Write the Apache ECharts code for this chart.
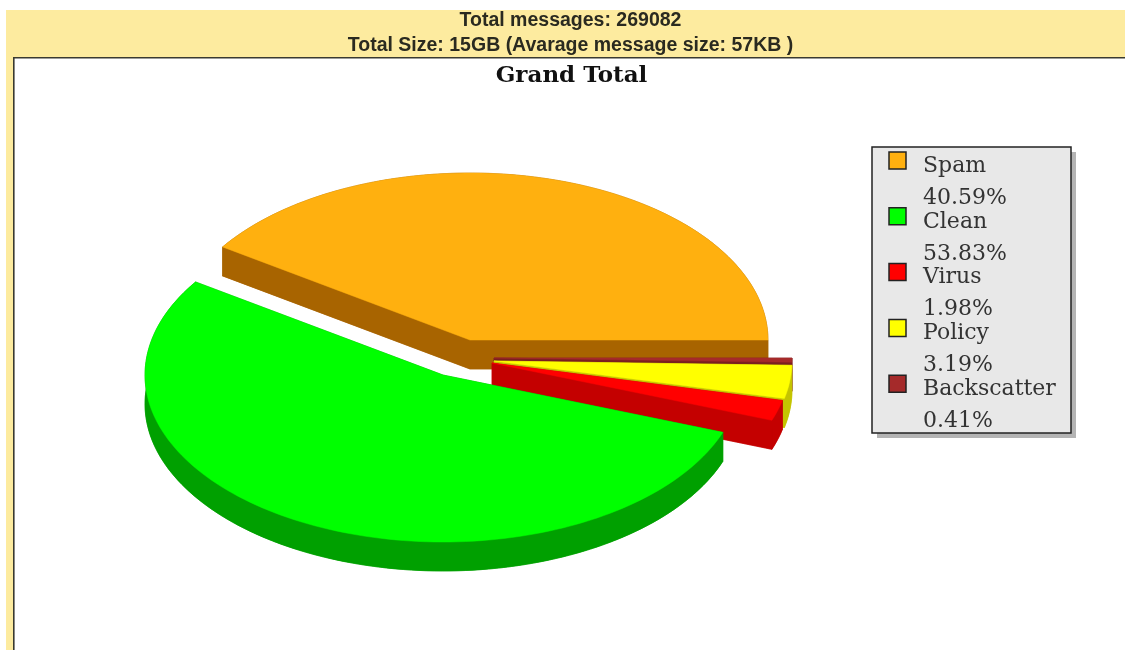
<!DOCTYPE html>
<html>
<head>
<meta charset="utf-8">
<style>html,body{margin:0;padding:0;background:#fff}#c{width:1125px;height:650px}</style>
<script src="https://cdn.jsdelivr.net/npm/echarts@6/dist/echarts.min.js"></script>
</head>
<body>
<div id="c"></div>
<script>
const categories = ['Spam', 'Clean', 'Virus', 'Policy', 'Backscatter'];
const shares = [40.59, 53.83, 1.98, 3.19, 0.41];
const headerLines = ['Total messages: 269082', 'Total Size: 15GB (Avarage message size: 57KB )'];
const chartTitle = 'Grand Total';

const topColors = ['#ffb00f', '#00ff00', '#ff0000', '#ffff00', '#a52a2a'];
const sideColors = ['#a86400', '#00a000', '#c40000', '#c4c400', '#7a1f1f'];
const explode = [[0, 0], [-27, 35], [22, 23], [24, 21], [24, 18]];
const paintOrder = [0, 4, 3, 2, 1];
const C = { x: 470, y: 340, a: 298, b: 167, depth: 29 };

const total = shares.reduce((s, v) => s + v, 0);
const starts = [];
shares.reduce((s, v, i) => { starts[i] = s; return s + v; }, 0);

function rim(cx, cy, from, to, dy) {
  const n = Math.max(2, Math.ceil(Math.abs(to - from) / 1.5) + 1);
  const pts = [];
  for (let i = 0; i < n; i++) {
    const t = (from + (to - from) * i / (n - 1)) * Math.PI / 180;
    pts.push([cx + C.a * Math.cos(t), cy - C.b * Math.sin(t) + dy]);
  }
  return pts;
}
function poly(points, fill, z2) {
  return { type: 'polygon', shape: { points }, z2, style: { fill, stroke: fill, lineWidth: 0.5 } };
}
function renderSlice(params, api) {
  const i = api.value(1);
  const from = starts[i] / total * 360;
  const to = from + api.value(0) / total * 360;
  const cx = C.x + explode[i][0], cy = C.y + explode[i][1], d = C.depth;
  const order = paintOrder.indexOf(i);
  const topArc = rim(cx, cy, from, to, 0);
  const lowArc = rim(cx, cy, from, to, d);
  const side = sideColors[i];
  const z = order * 2 + 10;
  return {
    type: 'group',
    children: [
      poly([[cx, cy + d]].concat(lowArc), side, z),
      poly(topArc.concat(lowArc.slice().reverse()), side, z),
      poly([[cx, cy], topArc[0], lowArc[0], [cx, cy + d]], side, z),
      poly([[cx, cy], topArc[topArc.length - 1], lowArc[lowArc.length - 1], [cx, cy + d]], side, z),
      poly([[cx, cy]].concat(topArc), topColors[i], z + 1)
    ]
  };
}

const serif = '"DejaVu Serif", serif';
const sans = '"Liberation Sans", Arial, sans-serif';
const graphics = [
  { type: 'rect', z: 0, shape: { x: 6, y: 10, width: 1119, height: 47 }, style: { fill: '#fdeb9f' } },
  { type: 'rect', z: 0, shape: { x: 6, y: 57, width: 7, height: 593 }, style: { fill: '#fdeb9f' } },
  { type: 'rect', z: 1, shape: { x: 13, y: 57, width: 1112, height: 1.6 }, style: { fill: '#3a3a30' } },
  { type: 'rect', z: 1, shape: { x: 13, y: 57, width: 1.6, height: 593 }, style: { fill: '#3a3a30' } },
  { type: 'rect', z: 2, shape: { x: 877, y: 152, width: 199, height: 286 }, style: { fill: '#b4b4b4' } },
  { type: 'rect', z: 3, shape: { x: 872, y: 147, width: 199, height: 286 },
    style: { fill: '#e8e8e8', stroke: '#222', lineWidth: 1.5 } }
];
headerLines.forEach((t, i) => graphics.push({
  type: 'text', z: 3, x: 570.5, y: i === 0 ? 21 : 46,
  style: { text: t, fill: '#2a2a20', font: 'bold 19.5px ' + sans, align: 'center', verticalAlign: 'middle' }
}));
const rowStep = 55.8;
categories.forEach((name, i) => {
  const y0 = 165 + i * rowStep;
  graphics.push({ type: 'rect', z: 4, shape: { x: 889, y: y0 - 13, width: 17, height: 17 },
    style: { fill: topColors[i], stroke: '#222', lineWidth: 1.5 } });
  graphics.push({ type: 'text', z: 4, x: 923, y: y0 + 1,
    style: { text: name, fill: '#333', font: '22px ' + serif, verticalAlign: 'middle' } });
  graphics.push({ type: 'text', z: 4, x: 923, y: y0 + 33,
    style: { text: shares[i].toFixed(2) + '%', fill: '#333', font: '22px ' + serif, verticalAlign: 'middle' } });
});

const chart = echarts.init(document.getElementById('c'), null, { renderer: 'canvas' });
chart.setOption({
  animation: false,
  backgroundColor: '#fff',
  title: {
    text: chartTitle, left: 566.5, top: 60, textAlign: 'center',
    textStyle: { fontFamily: serif, fontWeight: 'bold', fontSize: 23, color: '#111' }
  },
  graphic: graphics,
  series: [{
    type: 'custom',
    coordinateSystem: 'none',
    silent: true,
    clip: false,
    renderItem: renderSlice,
    data: shares.map((v, i) => [v, i])
  }]
});
</script>
</body>
</html>
